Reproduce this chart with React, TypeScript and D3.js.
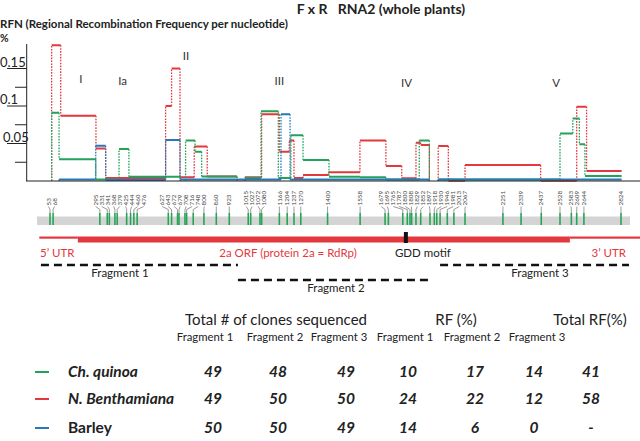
import * as d3 from 'd3';

// ---- data ----
// polymorphic marker sites (nt)
const SITES = [53, 68, 295, 331, 341, 368, 379, 425, 444, 460, 476, 627, 643, 672, 679, 708, 716, 748, 800, 860, 923,
  1015, 1027, 1072, 1080, 1166, 1204, 1237, 1270, 1400, 1558, 1679, 1695, 1765, 1787, 1800, 1808, 1829, 1852, 1897,
  1918, 1930, 1946, 1981, 2013, 2067, 2251, 2339, 2437, 2528, 2583, 2609, 2644, 2824];

// RFN steps per host: [start nt, end nt, value]
const QUINOA: [number, number, number][] = [
  [61, 97, 0.091], [97, 275, 0.029], [275, 384, 0.002], [388, 436, 0.0426], [436, 684, 0.0057],
  [711, 757, 0.054], [757, 789, 0.039], [789, 960, 0.006], [999, 1077, 0.004], [1077, 1161, 0.093],
  [1161, 1222, 0.004], [1222, 1281, 0.061], [1281, 1407, 0.028], [1407, 1557, 0.0057], [1557, 1683, 0.005],
  [1683, 1845, 0.002], [1845, 1894, 0.054], [1937, 2528, 0.002], [2528, 2590, 0.0635], [2590, 2622, 0.0835],
  [2622, 2649, 0.049], [2649, 2827, 0.0067],
];
const BENTH: [number, number, number][] = [
  [61, 105, 0.181], [105, 276, 0.087], [276, 323, 0.0435], [323, 614, 0.004], [614, 643, 0.1], [643, 684, 0.15],
  [684, 753, 0.005], [753, 816, 0.046], [816, 960, 0.006], [999, 1080, 0.005], [1080, 1166, 0.089],
  [1166, 1214, 0.039], [1214, 1237, 0.054], [1237, 1281, 0.004], [1281, 1404, 0.008], [1404, 1557, 0.0116],
  [1557, 1683, 0.054], [1683, 1760, 0.02], [1760, 1829, 0.0036], [1829, 1852, 0.051], [1852, 1894, 0.048],
  [1937, 1986, 0.0466], [1986, 2067, 0.0005], [2067, 2434, 0.0213], [2434, 2609, 0.0005], [2609, 2657, 0.099],
  [2657, 2827, 0.0133],
];
const BARLEY: [number, number, number][] = [
  [97, 275, 0.002], [275, 323, 0.047], [323, 614, 0.0015], [614, 684, 0.0546], [684, 1174, 0.002],
  [1174, 1218, 0.089], [1218, 1894, 0.002], [1937, 2827, 0.002],
];

const Y_TICKS = [0, 0.025, 0.05, 0.075, 0.1, 0.125, 0.15];
const Y_LABELS = ['0.05', '0.1', '0.15'];

const DOMAINS = [
  { name: 'I', nt: 203, v: 0.131 },
  { name: 'Ia', nt: 405, v: 0.128 },
  { name: 'II', nt: 713, v: 0.161 },
  { name: 'III', nt: 1166, v: 0.128 },
  { name: 'IV', nt: 1783, v: 0.125 },
  { name: 'V', nt: 2509, v: 0.126 },
];

const GENOME = { start: 1, orfStart: 188, orfEnd: 2576, end: 2900 };
const GDD = 1780;
const FRAGMENTS = [
  { name: 'Fragment 1', start: 9, end: 965, row: 0 },
  { name: 'Fragment 2', start: 965, end: 1897, row: 1 },
  { name: 'Fragment 3', start: 1946, end: 2863, row: 0 },
];

const HOSTS = ['Ch. quinoa', 'N. Benthamiana', 'Barley'];
const HOST_ITALIC = [true, true, false];
const CLONES = [[49, 48, 49], [49, 50, 50], [50, 50, 49]];
const RF = [[10, 17, 14], [24, 22, 12], [14, 6, 0]];
const TOTAL_RF = ['41', '58', '-'];
const SUBHEADS = ['Fragment 1', 'Fragment 2', 'Fragment 3', 'Fragment 1', 'Fragment 2', 'Fragment 3'];

const GREEN = '#22a25a';
const RED = '#e3383e';
const BLUE = '#2878b8';
const FONT = 'Lato, "Open Sans", sans-serif';

const W = 640;
const H = 441;

const x = d3.scaleLinear().domain([53, 2824]).range([50, 621]);
const y = d3.scaleLinear().domain([0, 0.15]).range([181, 68.5]);

function Steps({ steps, color }: { steps: [number, number, number][]; color: string }) {
  const solid: string[] = [];
  const dotted: string[] = [];
  steps.forEach(([a, b, v], i) => {
    const prev = steps[i - 1];
    const next = steps[i + 1];
    const from = prev && prev[1] === a ? prev[2] : 0;
    if (from !== v) dotted.push(`M${x(a)},${y(from)}V${y(v)}`);
    solid.push(`M${x(a)},${y(v)}H${x(b)}`);
    if (next && next[0] !== b) dotted.push(`M${x(b)},${y(v)}V${y(0)}`);
  });
  return (
    <g>
      <path d={dotted.join('')} fill="none" stroke={color} strokeWidth={1.3} strokeDasharray="1.6 1.3" />
      <path d={solid.join('')} fill="none" stroke={color} strokeWidth={2} />
    </g>
  );
}

function spreadLabels(px: number[], gap: number) {
  const p = px.slice();
  for (let k = 0; k < 200; k++) {
    for (let i = 1; i < p.length; i++) {
      const d = p[i] - p[i - 1];
      if (d < gap) {
        const s = (gap - d) / 2;
        p[i - 1] -= s;
        p[i] += s;
      }
    }
  }
  return p;
}

export default function App() {
  const markerX = SITES.map((s) => x(s));
  const labelX = spreadLabels(markerX, 6);
  const colX = [213, 278, 346, 408, 475, 534, 591];
  const subX = [205, 275, 339, 405, 472, 537];
  const fragLabelX = [120, 336, 540];
  const rowY = [372, 399, 428];
  const hostColors = [GREEN, RED, BLUE];

  return (
    <svg width={W} height={H} style={{ position: 'absolute', left: 0, top: 0, background: '#fff' }} fontFamily={FONT}>
      {/* titles */}
      <text x={381} y={14} textAnchor="middle" fontSize={14} fontWeight="bold" fill="#222">
        F x R&#160;&#160;&#160;RNA2 (whole plants)
      </text>
      <text x={0} y={28} fontSize={11.5} fontWeight="bold" fill="#222">
        RFN (Regional Recombination Frequency per nucleotide)
      </text>
      <text x={0} y={42} fontSize={10.5} fontWeight="bold" fill="#222">%</text>

      {/* y axis */}
      <line x1={26.7} x2={26.7} y1={44} y2={181} stroke="#222" strokeWidth={1} />
      {Y_TICKS.slice(1).map((t) => {
        const lab = Y_LABELS.find((l) => +l === t);
        return (
          <g key={t}>
            <line x1={lab ? 7 : 15} x2={26.7} y1={y(t)} y2={y(t)} stroke="#222" strokeWidth={1} />
            {lab && (
              <text x={lab === '0.05' ? 3 : 0} y={y(t) - 2} fontSize={13} fill="#222">{lab}</text>
            )}
          </g>
        );
      })}

      {/* domain numerals */}
      {DOMAINS.map((d) => (
        <text key={d.name} x={x(d.nt)} y={y(d.v)} textAnchor="middle" fontSize={11.5} fill="#333">{d.name}</text>
      ))}

      <Steps steps={BENTH} color={RED} />
      <Steps steps={QUINOA} color={GREEN} />
      <Steps steps={BARLEY} color={BLUE} />

      {/* baseline */}
      <line x1={26} x2={W} y1={181} y2={181} stroke="#222" strokeWidth={1.2} />

      {/* marker track */}
      <rect x={37} y={216.5} width={593} height={8.5} fill="#d4d4d4" />
      {SITES.map((s, i) => (
        <g key={s}>
          <text
            transform={`translate(${labelX[i] + 2.2},205.5) rotate(-90)`}
            fontSize={6.3}
            fill="#444"
          >
            {s}
          </text>
          <line x1={labelX[i]} x2={markerX[i]} y1={206.5} y2={209.5} stroke="#555" strokeWidth={0.6} />
          <line x1={markerX[i]} x2={markerX[i]} y1={209.5} y2={213} stroke="#555" strokeWidth={0.6} />
          <line x1={markerX[i]} x2={markerX[i]} y1={213} y2={225} stroke="#26a456" strokeWidth={1.6} />
        </g>
      ))}

      {/* genome map */}
      <rect x={x(GENOME.start)} y={236.5} width={x(GENOME.orfStart) - x(GENOME.start)} height={2.2} fill={RED} />
      <rect x={x(GENOME.orfStart)} y={236.5} width={x(GENOME.orfEnd) - x(GENOME.orfStart)} height={6} fill={RED} />
      <rect x={x(GENOME.orfEnd)} y={236.5} width={W - x(GENOME.orfEnd)} height={2.2} fill={RED} />
      <rect x={x(GDD) - 2} y={232} width={4} height={11} fill="#111" />
      <text x={40} y={257} fontSize={11.5} fill={RED}>5’ UTR</text>
      <text x={288} y={257} textAnchor="middle" fontSize={11.5} fill={RED}>2a ORF (protein 2a = RdRp)</text>
      <text x={x(GDD) + 17} y={257} textAnchor="middle" fontSize={11.5} fill="#222">GDD motif</text>
      <text x={626} y={257} textAnchor="end" fontSize={11.5} fill={RED}>3’ UTR</text>

      {FRAGMENTS.map((f, i) => {
        const ly = f.row === 0 ? 265 : 280;
        return (
          <g key={f.name}>
            <line x1={x(f.start)} x2={x(f.end)} y1={ly} y2={ly} stroke="#111" strokeWidth={2.4} strokeDasharray="8 5" />
            <text x={fragLabelX[i]} y={ly + 12} textAnchor="middle" fontSize={11.5} fill="#222">
              {f.name}
            </text>
          </g>
        );
      })}

      {/* table */}
      <text x={276} y={325} textAnchor="middle" fontSize={15} fill="#222">Total # of clones sequenced</text>
      <text x={456} y={325} textAnchor="middle" fontSize={15} fill="#222">RF (%)</text>
      <text x={590} y={325} textAnchor="middle" fontSize={15} fill="#222">Total RF(%)</text>
      {SUBHEADS.map((s, i) => (
        <text key={i} x={subX[i]} y={341} textAnchor="middle" fontSize={11.3} fill="#222">{s}</text>
      ))}
      {HOSTS.map((h, r) => {
        const vals = [...CLONES[r].map(String), ...RF[r].map(String), TOTAL_RF[r]];
        return (
          <g key={h}>
            <line x1={35} x2={49} y1={rowY[r]} y2={rowY[r]} stroke={hostColors[r]} strokeWidth={2} />
            <text x={68} y={rowY[r] + 5} fontSize={15.5} fontWeight="bold" fontStyle={HOST_ITALIC[r] ? 'italic' : 'normal'} fill="#222">
              {h}
            </text>
            {vals.map((v, c) => (
              <text key={c} x={colX[c]} y={rowY[r] + 5} textAnchor="middle" fontSize={15.5} fontWeight="bold" fontStyle="italic" fill="#222">
                {v}
              </text>
            ))}
          </g>
        );
      })}
    </svg>
  );
}
